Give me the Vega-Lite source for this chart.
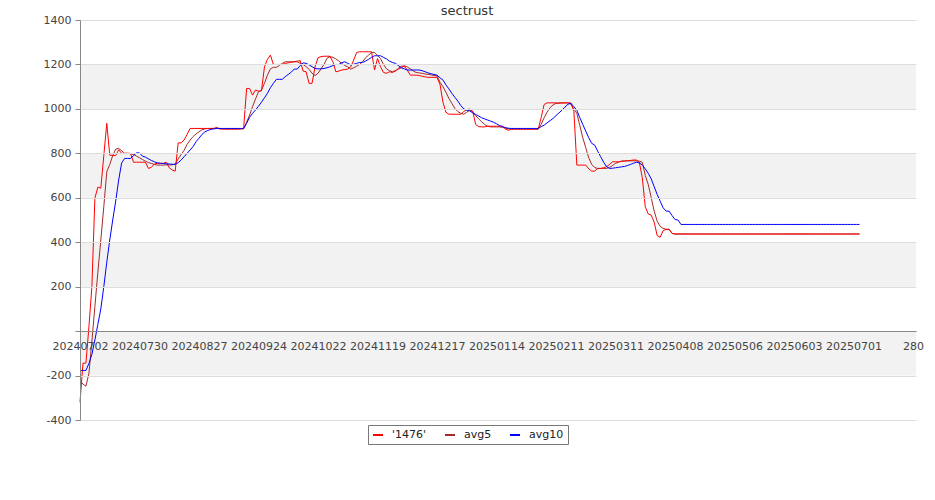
{
"$schema":"https://vega.github.io/schema/vega-lite/v6.json",
"width":836,"height":400,
"autosize":{"type":"none"},
"padding":{"left":80,"top":20,"right":19,"bottom":80},
"background":"white",
"title":{"text":"sectrust","font":"DejaVu Sans","fontSize":13,"fontWeight":"normal","color":"#333333","frame":"group","anchor":"middle","dx":-31,"offset":-4},
"config":{"view":{"stroke":null},"font":"DejaVu Sans"},
"layer":[
{"data":{"values":[{"lo":1000,"hi":1200},{"lo":600,"hi":800},{"lo":200,"hi":400},{"lo":-200,"hi":0}]},
"mark":{"type":"rect","color":"#f2f2f2"},
"encoding":{
"y":{"field":"lo","type":"quantitative","scale":{"domain":[-400,1400],"nice":false,"zero":false},
"axis":{"title":null,"values":[-400,-300,-200,-100,0,100,200,300,400,500,600,700,800,900,1000,1100,1200,1300,1400],
"labelExpr":"datum.value % 200 === 0 && datum.value !== 0 ? toString(datum.value) : ''",
"grid":true,"gridColor":"#dddddd","gridOpacity":{"condition":{"test":"datum.value % 200 !== 0","value":0},"value":1},
"domainColor":"#888888","tickColor":"#888888","tickSize":5,"labelFont":"DejaVu Sans","labelFontSize":11,"labelColor":"#444444","labelPadding":4,"zindex":1}},
"y2":{"field":"hi"}}},
{"data":{"values":[
{"i":0,"s1476":-320,"avg5":-225,"avg10":-177},
{"i":1,"s1476":-144,"avg5":-238,"avg10":-177},
{"i":2,"s1476":-144,"avg5":-248,"avg10":-177},
{"i":3,"s1476":20,"avg5":-190,"avg10":-145},
{"i":4,"s1476":200,"avg5":-45,"avg10":-105},
{"i":5,"s1476":598,"avg5":110,"avg10":-40},
{"i":6,"s1476":648,"avg5":265,"avg10":30},
{"i":7,"s1476":643,"avg5":410,"avg10":100},
{"i":8,"s1476":790,"avg5":560,"avg10":200},
{"i":9,"s1476":935,"avg5":717,"avg10":310},
{"i":10,"s1476":792,"avg5":750,"avg10":410},
{"i":11,"s1476":790,"avg5":790,"avg10":500},
{"i":12,"s1476":790,"avg5":819,"avg10":585},
{"i":13,"s1476":816,"avg5":822,"avg10":680},
{"i":14,"s1476":800,"avg5":812,"avg10":757},
{"i":15,"s1476":800,"avg5":800,"avg10":777},
{"i":16,"s1476":800,"avg5":800,"avg10":777},
{"i":17,"s1476":800,"avg5":798,"avg10":777},
{"i":18,"s1476":760,"avg5":795,"avg10":790},
{"i":19,"s1476":760,"avg5":787,"avg10":802},
{"i":20,"s1476":760,"avg5":780,"avg10":802},
{"i":21,"s1476":760,"avg5":772,"avg10":787},
{"i":22,"s1476":760,"avg5":765,"avg10":783},
{"i":23,"s1476":732,"avg5":758,"avg10":775},
{"i":24,"s1476":737,"avg5":755,"avg10":768},
{"i":25,"s1476":752,"avg5":750,"avg10":762},
{"i":26,"s1476":755,"avg5":747,"avg10":757},
{"i":27,"s1476":755,"avg5":747,"avg10":755},
{"i":28,"s1476":755,"avg5":747,"avg10":754},
{"i":29,"s1476":760,"avg5":748,"avg10":753},
{"i":30,"s1476":735,"avg5":748,"avg10":752},
{"i":31,"s1476":725,"avg5":748,"avg10":751},
{"i":32,"s1476":720,"avg5":752,"avg10":750},
{"i":33,"s1476":847,"avg5":775,"avg10":758},
{"i":34,"s1476":847,"avg5":795,"avg10":770},
{"i":35,"s1476":860,"avg5":814,"avg10":785},
{"i":36,"s1476":885,"avg5":840,"avg10":800},
{"i":37,"s1476":912,"avg5":860,"avg10":815},
{"i":38,"s1476":912,"avg5":875,"avg10":830},
{"i":39,"s1476":912,"avg5":887,"avg10":852},
{"i":40,"s1476":912,"avg5":897,"avg10":868},
{"i":41,"s1476":912,"avg5":906,"avg10":885},
{"i":42,"s1476":912,"avg5":910,"avg10":897},
{"i":43,"s1476":912,"avg5":912,"avg10":903},
{"i":44,"s1476":912,"avg5":912,"avg10":908},
{"i":45,"s1476":912,"avg5":912,"avg10":910},
{"i":46,"s1476":917,"avg5":912,"avg10":912},
{"i":47,"s1476":909,"avg5":912,"avg10":912},
{"i":48,"s1476":909,"avg5":911,"avg10":912},
{"i":49,"s1476":909,"avg5":910,"avg10":912},
{"i":50,"s1476":909,"avg5":910,"avg10":912},
{"i":51,"s1476":909,"avg5":910,"avg10":912},
{"i":52,"s1476":909,"avg5":910,"avg10":912},
{"i":53,"s1476":909,"avg5":910,"avg10":912},
{"i":54,"s1476":910,"avg5":910,"avg10":912},
{"i":55,"s1476":912,"avg5":910,"avg10":912},
{"i":56,"s1476":1092,"avg5":940,"avg10":935},
{"i":57,"s1476":1092,"avg5":972,"avg10":962},
{"i":58,"s1476":1062,"avg5":1010,"avg10":980},
{"i":59,"s1476":1085,"avg5":1045,"avg10":995},
{"i":60,"s1476":1080,"avg5":1077,"avg10":1012},
{"i":61,"s1476":1081,"avg5":1084,"avg10":1030},
{"i":62,"s1476":1189,"avg5":1115,"avg10":1050},
{"i":63,"s1476":1223,"avg5":1152,"avg10":1070},
{"i":64,"s1476":1242,"avg5":1180,"avg10":1095},
{"i":65,"s1476":1200,"avg5":1187,"avg10":1115},
{"i":66,"s1476":1200,"avg5":1187,"avg10":1133},
{"i":67,"s1476":1200,"avg5":1195,"avg10":1133},
{"i":68,"s1476":1200,"avg5":1205,"avg10":1133},
{"i":69,"s1476":1205,"avg5":1212,"avg10":1145},
{"i":70,"s1476":1207,"avg5":1212,"avg10":1155},
{"i":71,"s1476":1210,"avg5":1212,"avg10":1165},
{"i":72,"s1476":1212,"avg5":1212,"avg10":1179},
{"i":73,"s1476":1215,"avg5":1212,"avg10":1179},
{"i":74,"s1476":1217,"avg5":1205,"avg10":1195},
{"i":75,"s1476":1170,"avg5":1200,"avg10":1207},
{"i":76,"s1476":1167,"avg5":1190,"avg10":1205},
{"i":77,"s1476":1115,"avg5":1178,"avg10":1198},
{"i":78,"s1476":1115,"avg5":1160,"avg10":1190},
{"i":79,"s1476":1189,"avg5":1150,"avg10":1182},
{"i":80,"s1476":1230,"avg5":1160,"avg10":1180},
{"i":81,"s1476":1235,"avg5":1180,"avg10":1180},
{"i":82,"s1476":1237,"avg5":1200,"avg10":1182},
{"i":83,"s1476":1237,"avg5":1227,"avg10":1185},
{"i":84,"s1476":1237,"avg5":1235,"avg10":1189},
{"i":85,"s1476":1212,"avg5":1232,"avg10":1195},
{"i":86,"s1476":1167,"avg5":1225,"avg10":1200},
{"i":87,"s1476":1170,"avg5":1215,"avg10":1200},
{"i":88,"s1476":1175,"avg5":1205,"avg10":1208},
{"i":89,"s1476":1177,"avg5":1195,"avg10":1212},
{"i":90,"s1476":1179,"avg5":1189,"avg10":1205},
{"i":91,"s1476":1189,"avg5":1179,"avg10":1198},
{"i":92,"s1476":1220,"avg5":1185,"avg10":1201},
{"i":93,"s1476":1254,"avg5":1192,"avg10":1205},
{"i":94,"s1476":1257,"avg5":1200,"avg10":1209},
{"i":95,"s1476":1257,"avg5":1212,"avg10":1209},
{"i":96,"s1476":1257,"avg5":1230,"avg10":1215},
{"i":97,"s1476":1257,"avg5":1242,"avg10":1223},
{"i":98,"s1476":1257,"avg5":1254,"avg10":1232},
{"i":99,"s1476":1175,"avg5":1254,"avg10":1239},
{"i":100,"s1476":1227,"avg5":1240,"avg10":1239},
{"i":101,"s1476":1190,"avg5":1227,"avg10":1239},
{"i":102,"s1476":1164,"avg5":1200,"avg10":1232},
{"i":103,"s1476":1160,"avg5":1180,"avg10":1225},
{"i":104,"s1476":1167,"avg5":1172,"avg10":1215},
{"i":105,"s1476":1164,"avg5":1167,"avg10":1209},
{"i":106,"s1476":1170,"avg5":1172,"avg10":1205},
{"i":107,"s1476":1182,"avg5":1179,"avg10":1195},
{"i":108,"s1476":1192,"avg5":1185,"avg10":1185},
{"i":109,"s1476":1192,"avg5":1194,"avg10":1180},
{"i":110,"s1476":1175,"avg5":1189,"avg10":1175},
{"i":111,"s1476":1152,"avg5":1180,"avg10":1175},
{"i":112,"s1476":1152,"avg5":1170,"avg10":1175},
{"i":113,"s1476":1152,"avg5":1164,"avg10":1175},
{"i":114,"s1476":1150,"avg5":1162,"avg10":1175},
{"i":115,"s1476":1147,"avg5":1160,"avg10":1172},
{"i":116,"s1476":1144,"avg5":1157,"avg10":1167},
{"i":117,"s1476":1142,"avg5":1155,"avg10":1162},
{"i":118,"s1476":1142,"avg5":1153,"avg10":1158},
{"i":119,"s1476":1142,"avg5":1150,"avg10":1155},
{"i":120,"s1476":1142,"avg5":1149,"avg10":1152},
{"i":121,"s1476":1110,"avg5":1120,"avg10":1140},
{"i":122,"s1476":1030,"avg5":1100,"avg10":1130},
{"i":123,"s1476":985,"avg5":1075,"avg10":1108},
{"i":124,"s1476":976,"avg5":1047,"avg10":1090},
{"i":125,"s1476":976,"avg5":1025,"avg10":1070},
{"i":126,"s1476":976,"avg5":1002,"avg10":1052},
{"i":127,"s1476":976,"avg5":988,"avg10":1035},
{"i":128,"s1476":976,"avg5":980,"avg10":1015},
{"i":129,"s1476":988,"avg5":976,"avg10":1000},
{"i":130,"s1476":997,"avg5":985,"avg10":994},
{"i":131,"s1476":999,"avg5":994,"avg10":991},
{"i":132,"s1476":990,"avg5":987,"avg10":982},
{"i":133,"s1476":930,"avg5":970,"avg10":975},
{"i":134,"s1476":920,"avg5":955,"avg10":968},
{"i":135,"s1476":919,"avg5":942,"avg10":960},
{"i":136,"s1476":919,"avg5":930,"avg10":955},
{"i":137,"s1476":922,"avg5":922,"avg10":950},
{"i":138,"s1476":922,"avg5":919,"avg10":945},
{"i":139,"s1476":922,"avg5":919,"avg10":940},
{"i":140,"s1476":922,"avg5":919,"avg10":933},
{"i":141,"s1476":922,"avg5":919,"avg10":925},
{"i":142,"s1476":922,"avg5":917,"avg10":920},
{"i":143,"s1476":909,"avg5":913,"avg10":916},
{"i":144,"s1476":904,"avg5":911,"avg10":913},
{"i":145,"s1476":909,"avg5":909,"avg10":912},
{"i":146,"s1476":909,"avg5":909,"avg10":912},
{"i":147,"s1476":909,"avg5":909,"avg10":912},
{"i":148,"s1476":909,"avg5":909,"avg10":912},
{"i":149,"s1476":909,"avg5":909,"avg10":912},
{"i":150,"s1476":909,"avg5":909,"avg10":912},
{"i":151,"s1476":909,"avg5":909,"avg10":912},
{"i":152,"s1476":909,"avg5":909,"avg10":912},
{"i":153,"s1476":909,"avg5":909,"avg10":912},
{"i":154,"s1476":909,"avg5":909,"avg10":912},
{"i":155,"s1476":960,"avg5":930,"avg10":920},
{"i":156,"s1476":1020,"avg5":960,"avg10":927},
{"i":157,"s1476":1027,"avg5":985,"avg10":937},
{"i":158,"s1476":1027,"avg5":1005,"avg10":947},
{"i":159,"s1476":1027,"avg5":1018,"avg10":957},
{"i":160,"s1476":1027,"avg5":1025,"avg10":970},
{"i":161,"s1476":1025,"avg5":1027,"avg10":982},
{"i":162,"s1476":1027,"avg5":1027,"avg10":994},
{"i":163,"s1476":1027,"avg5":1027,"avg10":1008},
{"i":164,"s1476":1027,"avg5":1027,"avg10":1021},
{"i":165,"s1476":1027,"avg5":1021,"avg10":1025},
{"i":166,"s1476":990,"avg5":1000,"avg10":1010},
{"i":167,"s1476":747,"avg5":980,"avg10":994},
{"i":168,"s1476":747,"avg5":925,"avg10":960},
{"i":169,"s1476":747,"avg5":870,"avg10":930},
{"i":170,"s1476":747,"avg5":825,"avg10":900},
{"i":171,"s1476":730,"avg5":780,"avg10":870},
{"i":172,"s1476":720,"avg5":750,"avg10":845},
{"i":173,"s1476":720,"avg5":736,"avg10":837},
{"i":174,"s1476":732,"avg5":732,"avg10":810},
{"i":175,"s1476":732,"avg5":732,"avg10":785},
{"i":176,"s1476":735,"avg5":732,"avg10":760},
{"i":177,"s1476":740,"avg5":732,"avg10":740},
{"i":178,"s1476":750,"avg5":737,"avg10":732},
{"i":179,"s1476":762,"avg5":745,"avg10":733},
{"i":180,"s1476":762,"avg5":755,"avg10":735},
{"i":181,"s1476":762,"avg5":760,"avg10":737},
{"i":182,"s1476":764,"avg5":765,"avg10":739},
{"i":183,"s1476":765,"avg5":766,"avg10":741},
{"i":184,"s1476":767,"avg5":766,"avg10":745},
{"i":185,"s1476":768,"avg5":766,"avg10":750},
{"i":186,"s1476":770,"avg5":766,"avg10":755},
{"i":187,"s1476":770,"avg5":766,"avg10":760},
{"i":188,"s1476":760,"avg5":765,"avg10":757},
{"i":189,"s1476":690,"avg5":760,"avg10":748},
{"i":190,"s1476":560,"avg5":700,"avg10":730},
{"i":191,"s1476":527,"avg5":660,"avg10":710},
{"i":192,"s1476":522,"avg5":600,"avg10":685},
{"i":193,"s1476":490,"avg5":540,"avg10":650},
{"i":194,"s1476":430,"avg5":495,"avg10":615},
{"i":195,"s1476":422,"avg5":472,"avg10":585},
{"i":196,"s1476":452,"avg5":462,"avg10":555},
{"i":197,"s1476":458,"avg5":458,"avg10":540},
{"i":198,"s1476":458,"avg5":458,"avg10":540},
{"i":199,"s1476":440,"avg5":440,"avg10":520},
{"i":200,"s1476":437,"avg5":437,"avg10":502},
{"i":201,"s1476":437,"avg5":437,"avg10":500},
{"i":202,"s1476":437,"avg5":437,"avg10":480},
{"i":203,"s1476":437,"avg5":437,"avg10":480},
{"i":204,"s1476":437,"avg5":437,"avg10":480},
{"i":205,"s1476":437,"avg5":437,"avg10":480},
{"i":206,"s1476":437,"avg5":437,"avg10":480},
{"i":207,"s1476":437,"avg5":437,"avg10":480},
{"i":208,"s1476":437,"avg5":437,"avg10":480},
{"i":209,"s1476":437,"avg5":437,"avg10":480},
{"i":210,"s1476":437,"avg5":437,"avg10":480},
{"i":211,"s1476":437,"avg5":437,"avg10":480},
{"i":212,"s1476":437,"avg5":437,"avg10":480},
{"i":213,"s1476":437,"avg5":437,"avg10":480},
{"i":214,"s1476":437,"avg5":437,"avg10":480},
{"i":215,"s1476":437,"avg5":437,"avg10":480},
{"i":216,"s1476":437,"avg5":437,"avg10":480},
{"i":217,"s1476":437,"avg5":437,"avg10":480},
{"i":218,"s1476":437,"avg5":437,"avg10":480},
{"i":219,"s1476":437,"avg5":437,"avg10":480},
{"i":220,"s1476":437,"avg5":437,"avg10":480},
{"i":221,"s1476":437,"avg5":437,"avg10":480},
{"i":222,"s1476":437,"avg5":437,"avg10":480},
{"i":223,"s1476":437,"avg5":437,"avg10":480},
{"i":224,"s1476":437,"avg5":437,"avg10":480},
{"i":225,"s1476":437,"avg5":437,"avg10":480},
{"i":226,"s1476":437,"avg5":437,"avg10":480},
{"i":227,"s1476":437,"avg5":437,"avg10":480},
{"i":228,"s1476":437,"avg5":437,"avg10":480},
{"i":229,"s1476":437,"avg5":437,"avg10":480},
{"i":230,"s1476":437,"avg5":437,"avg10":480},
{"i":231,"s1476":437,"avg5":437,"avg10":480},
{"i":232,"s1476":437,"avg5":437,"avg10":480},
{"i":233,"s1476":437,"avg5":437,"avg10":480},
{"i":234,"s1476":437,"avg5":437,"avg10":480},
{"i":235,"s1476":437,"avg5":437,"avg10":480},
{"i":236,"s1476":437,"avg5":437,"avg10":480},
{"i":237,"s1476":437,"avg5":437,"avg10":480},
{"i":238,"s1476":437,"avg5":437,"avg10":480},
{"i":239,"s1476":437,"avg5":437,"avg10":480},
{"i":240,"s1476":437,"avg5":437,"avg10":480},
{"i":241,"s1476":437,"avg5":437,"avg10":480},
{"i":242,"s1476":437,"avg5":437,"avg10":480},
{"i":243,"s1476":437,"avg5":437,"avg10":480},
{"i":244,"s1476":437,"avg5":437,"avg10":480},
{"i":245,"s1476":437,"avg5":437,"avg10":480},
{"i":246,"s1476":437,"avg5":437,"avg10":480},
{"i":247,"s1476":437,"avg5":437,"avg10":480},
{"i":248,"s1476":437,"avg5":437,"avg10":480},
{"i":249,"s1476":437,"avg5":437,"avg10":480},
{"i":250,"s1476":437,"avg5":437,"avg10":480},
{"i":251,"s1476":437,"avg5":437,"avg10":480},
{"i":252,"s1476":437,"avg5":437,"avg10":480},
{"i":253,"s1476":437,"avg5":437,"avg10":480},
{"i":254,"s1476":437,"avg5":437,"avg10":480},
{"i":255,"s1476":437,"avg5":437,"avg10":480},
{"i":256,"s1476":437,"avg5":437,"avg10":480},
{"i":257,"s1476":437,"avg5":437,"avg10":480},
{"i":258,"s1476":437,"avg5":437,"avg10":480},
{"i":259,"s1476":437,"avg5":437,"avg10":480},
{"i":260,"s1476":437,"avg5":437,"avg10":480},
{"i":261,"s1476":437,"avg5":437,"avg10":480},
{"i":262,"s1476":437,"avg5":437,"avg10":480}
]},
"transform":[{"fold":["avg5","s1476","avg10"],"as":["series","value"]}],
"mark":{"type":"line","strokeWidth":1},
"encoding":{
"x":{"field":"i","type":"quantitative","scale":{"domain":[0,281],"nice":false,"zero":false},
"axis":{"title":null,"values":[0,20,40,60,80,100,120,140,160,180,200,220,240,260,280],
"labelExpr":"['20240702','20240730','20240827','20240924','20241022','20241119','20241217','20250114','20250211','20250311','20250408','20250506','20250603','20250701','280'][round(datum.value/20)]",
"offset":-89,"ticks":false,"grid":false,"domainColor":"#888888","labelPadding":9,"labelFont":"DejaVu Sans","labelFontSize":11,"labelColor":"#444444","labelOverlap":false,"labelBound":false,"labelFlush":false,"zindex":1}},
"y":{"field":"value","type":"quantitative"},
"color":{"field":"series","type":"nominal","scale":{"domain":["s1476","avg5","avg10"],"range":["#ff0000","#a52a2a","#0000ff"]},
"legend":{"orient":"none","legendX":288,"legendY":405,"direction":"horizontal","title":null,"symbolType":"stroke","symbolStrokeWidth":2,"symbolSize":100,"labelFont":"DejaVu Sans","labelFontSize":11,"labelColor":"#222222","strokeColor":"#777777","fillColor":"white","padding":4,"columnPadding":14,"labelOffset":8,
"labelExpr":"datum.value === 's1476' ? \"'1476'\" : datum.value"}}}}
]
}
